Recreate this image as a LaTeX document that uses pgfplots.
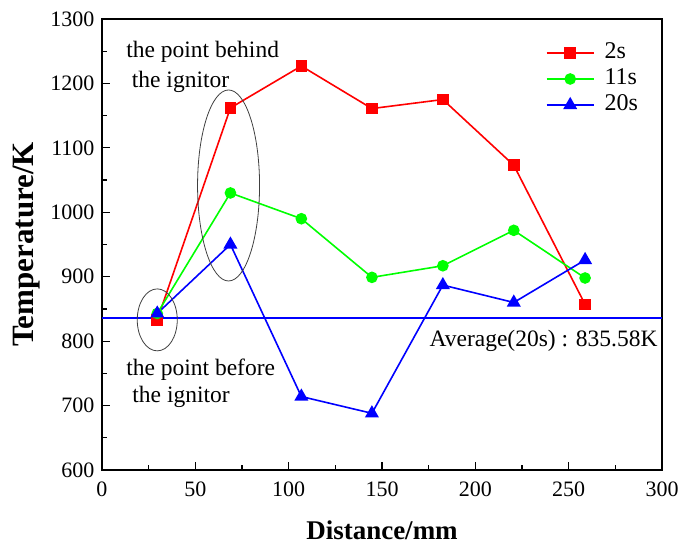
\documentclass[border=0pt]{standalone}
\usepackage{fontspec}
\setmainfont{Liberation Serif}
\usepackage{pgfplots}
\pgfplotsset{compat=1.18}
\definecolor{pred}{RGB}{255,0,0}
\definecolor{pgreen}{RGB}{0,255,0}
\definecolor{pblue}{RGB}{0,0,255}
\begin{document}
\begin{tikzpicture}
\useasboundingbox (-102bp,-76bp) rectangle (579bp,470bp);
\begin{axis}[
  scale only axis, width=560bp, height=451bp,
  xmin=0, xmax=300, ymin=600, ymax=1300,
  xtick={0,50,...,300}, ytick={600,700,...,1300},
  minor x tick num=1, minor y tick num=1,
  xtick pos=bottom, ytick pos=left,
  tick align=inside,
  major tick length=8bp, minor tick length=5bp,
  axis line style={line width=1.5bp},
  every tick/.style={black, line width=1.2bp},
  tick label style={font=\rmfamily\fontsize{22bp}{26bp}\selectfont},
  xticklabel style={yshift=-8bp},
  yticklabel style={xshift=-4bp},
  /pgf/number format/assume math mode=true,
  /pgf/number format/1000 sep={},
  xlabel={\textbf{Distance/mm}},
  ylabel={\textbf{Temperature/K}},
  xlabel style={font=\fontsize{27bp}{30bp}\selectfont, at={(axis description cs:0.5,-0.153)}, anchor=base},
  ylabel style={font=\fontsize{31bp}{34bp}\selectfont, at={(axis description cs:-0.123,0.5)}, anchor=base, rotate=0},
  legend style={at={(axis description cs:0.787,0.955)}, anchor=north west, draw=none, fill=none,
    font=\fontsize{24bp}{28bp}\selectfont, row sep=3bp, column sep=9bp,
    nodes={inner sep=1bp, text height=16bp, text depth=5bp}},
  legend cell align=left,
  legend image code/.code={\draw[mark repeat=2,mark phase=2] plot coordinates {(0bp,0bp)(23.5bp,0bp)(47bp,0bp)};},
  clip=false,
]
\addplot[pred, line width=1.6bp, mark=square*, mark size=5bp, mark options={solid}] coordinates {
 (29.6,833) (68.8,1162) (106.8,1227) (144.6,1161) (182.6,1175) (220.6,1073) (258.8,857)};
\addlegendentry{2s}
\addplot[pgreen, line width=1.6bp, mark=*, mark size=5bp] coordinates {
 (29.6,843) (68.8,1030) (106.8,990) (144.6,899) (182.6,917) (220.6,972) (258.8,898)};
\addlegendentry{11s}
\addplot[pblue, line width=1.6bp, mark=triangle*, mark size=6.5bp] coordinates {
 (29.6,843) (68.8,950) (106.8,714) (144.6,688) (182.6,887) (220.6,860) (258.8,926)};
\addlegendentry{20s}
\addplot[pblue, line width=1.6bp, forget plot] coordinates {(0,835.58) (300,835.58)};
\draw[black!75, line width=0.8bp] (axis cs:29.6,833) ellipse [x radius=20bp, y radius=31bp];
\draw[black!75, line width=0.8bp] (axis cs:67.8,1041.6) ellipse [x radius=31bp, y radius=95.5bp];
\begin{scope}[every node/.style={font=\fontsize{23.5bp}{28bp}\selectfont, inner sep=0pt, anchor=base west}]
\node at (axis cs:12.9,1239.5) {the point behind};
\node at (axis cs:15.9,1194.4) {the ignitor};
\node at (axis cs:12.9,747.4) {the point before};
\node at (axis cs:16.2,704.5) {the ignitor};
\node at (axis cs:175.4,791.4) {Average(20s) : 835.58K};
\end{scope}
\end{axis}
\end{tikzpicture}
\end{document}
